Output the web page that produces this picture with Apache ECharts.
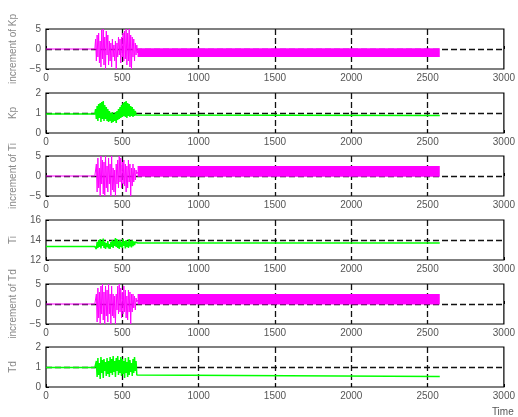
<!DOCTYPE html>
<html>
<head>
<meta charset="utf-8">
<script src="https://cdn.jsdelivr.net/npm/echarts@6/dist/echarts.min.js"></script>
<style>
  html, body { margin: 0; padding: 0; background: #fff; }
  #main { width: 518px; height: 417px; }
</style>
</head>
<body>
<div id="main"></div>
<script>
// panel settings, top to bottom
var yNames = ['increment of Kp', 'Kp', 'increment of Ti', 'Ti', 'increment of Td', 'Td'];
var yMin = [-5, 0, -5, 12, -5, 0];
var yMax = [5, 2, 5, 16, 5, 2];
var yStep = [5, 1, 5, 2, 5, 1];
var xTicks = [0, 500, 1000, 1500, 2000, 2500, 3000];

// time stamps of the adaptation burst
var oscT = [320, 325, 330, 335, 340, 345, 350, 355, 360, 365, 370, 375, 380, 385, 390,
    395, 400, 405, 410, 415, 420, 425, 430, 435, 440, 445, 450, 455, 460, 465, 470,
    475, 480, 485, 490, 495, 500, 505, 510, 515, 520, 525, 530, 535, 540, 545, 550,
    555, 560, 565, 570, 575, 580, 585, 590, 595, 600];

// increments (magenta)
var incKp = [0, 2.5, -3, 3.5, -2, 4, -3.5, 2, -4.5, 4.8, -2.5, 5, -4, 3, -5, 4.5, -1.5,
    3.5, -4, 2, -3, 1.5, -4.5, 2.5, -2, 1, -3, 2, -5, 1.5, -2, 3, -1.5, 2.5, -3.5, 3, -2,
    4, -3, 4.5, -2.5, 5, -4, 4, -3, 5, -4.5, 3.5, -5, 3, -2, 2.5, -3, 1.5, -1.5, 1, -1];
var incTi = [0, 0, 3, -4, 4.5, -3, 2, -5, 5, -2, 4, -4.5, 3.5, -5, 5, -3, 2.5, -4, 4.5,
    -2, 3, -5, 5, -3.5, 2, -4, 1.5, -5, 3, -2, 4, -3, 5, -1.5, 4.5, -3, 3.5, -2, 4, -2.5,
    3, -4, 2.5, -3, 4, -1.5, 3, -5, 2, -2.5, 3, -1.5, 2, -1, 1.5, 0.5, 1];
var incTd = [0, 0, 2.5, -4.5, 4, -3.5, 3, -5, 4.5, -2.5, 5, -4, 3, -5, 4.5, -3, 3.5, -4.5,
    5, -2.5, 2.5, -5, 4.5, -3, 2.5, -3.5, 2, -5, 2.5, -1.5, 4.5, -2.5, 5, -2, 4, -3.5, 3,
    -2.5, 4.5, -2, 3.5, -3.5, 2, -4, 3.5, -2, 3, -5, 2.5, -2, 2.5, -1, 2, -1.5, 1.5, 0.5, 1];

// parameters (green)
var kp = [0.95, 1.2, 0.7, 1.35, 0.6, 1.45, 0.75, 1.5, 0.55, 1.55, 0.7, 1.6, 0.6, 1.4, 0.7,
    1.3, 0.6, 1.2, 0.55, 1.1, 0.6, 1.0, 0.5, 1.05, 0.55, 0.95, 0.6, 1.05, 0.5, 1.1, 0.65,
    1.2, 0.7, 1.3, 0.75, 1.4, 0.8, 1.5, 0.85, 1.55, 0.8, 1.6, 0.75, 1.5, 0.85, 1.45, 0.8,
    1.35, 0.85, 1.3, 0.8, 1.2, 0.85, 1.1, 0.9, 0.95, 0.87];
var ti = [13.35, 13.35, 13.1, 13.8, 13.2, 14.0, 13.3, 14.1, 13.15, 13.9, 13.4, 14.15, 13.2,
    13.8, 13.1, 13.7, 13.3, 13.9, 13.15, 13.6, 13.1, 13.8, 13.3, 14.0, 13.2, 13.9, 13.4,
    14.2, 13.3, 14.1, 13.2, 13.9, 13.1, 14.0, 13.3, 13.8, 13.2, 14.1, 13.4, 13.9, 13.15,
    14.0, 13.3, 13.85, 13.2, 14.1, 13.35, 13.9, 13.25, 14.0, 13.4, 13.85, 13.5, 13.8, 13.6,
    13.7, 13.7];
var td = [0.97, 0.97, 1.3, 0.5, 1.45, 0.6, 1.2, 0.4, 1.5, 0.7, 1.35, 0.45, 1.4, 0.8, 1.25,
    0.55, 1.45, 0.65, 1.3, 0.5, 1.5, 0.7, 1.4, 0.6, 1.55, 0.75, 1.3, 0.5, 1.45, 0.8, 1.55,
    0.6, 1.35, 0.7, 1.5, 0.55, 1.4, 0.65, 1.3, 0.45, 1.45, 0.7, 1.25, 0.5, 1.5, 0.6, 1.35,
    0.75, 1.2, 0.55, 1.4, 0.7, 1.5, 0.8, 1.3, 0.6, 0.53];

// the fast chatter after the burst, drawn as a filled band [low, high]
var bandT = [600, 2580];
var bandKp = [-2, 0.2];
var bandTi = [-0.2, 2.5];
var bandTd = [-0.1, 2.5];

var endT = 2580;
var gridTops = [29, 93, 156, 220, 284, 347];

var chart = echarts.init(document.getElementById('main'));

function pairs(start, vals, tail) {
    var res = [[0, start]];
    for (var i = 0; i < oscT.length; i++) {
        res.push([oscT[i], vals[i]]);
    }
    if (tail) res.push([endT, vals[vals.length - 1]]);
    return res;
}

var dash = { color: '#111', type: [6, 3], width: 1.3 };
var font = 'Liberation Sans, Arial, sans-serif';

var grids = [], xAxes = [], yAxes = [], series = [];
var lineData = [
    pairs(0, incKp, false), pairs(kp[0], kp, true),
    pairs(0, incTi, false), pairs(ti[0], ti, true),
    pairs(0, incTd, false), pairs(td[0], td, true)
];
var bands = [bandKp, null, bandTi, null, bandTd, null];

for (var i = 0; i < 6; i++) {
    grids.push({
        left: 46, right: 11, top: gridTops[i], height: 40,
        show: true, borderColor: '#000', borderWidth: 1.2
    });
    xAxes.push({
        type: 'value', gridIndex: i, min: xTicks[0], max: xTicks[xTicks.length - 1],
        interval: xTicks[1] - xTicks[0],
        axisLine: { show: false },
        axisTick: { inside: true, length: 3, lineStyle: { color: '#000' } },
        axisLabel: { color: '#555', fontSize: 10, fontFamily: font, margin: 4,
            formatter: function(v) { return String(v); } },
        splitLine: { show: true, showMinLine: false, showMaxLine: false, lineStyle: dash },
        name: i === 5 ? 'Time' : '',
        nameLocation: 'end', nameGap: -12,
        nameTextStyle: { color: '#555', fontSize: 10, fontFamily: font,
            verticalAlign: 'top', padding: [20, 0, 0, 0] }
    });
    yAxes.push({
        type: 'value', gridIndex: i, min: yMin[i], max: yMax[i], interval: yStep[i],
        axisLine: { show: false },
        axisTick: { inside: true, length: 3, lineStyle: { color: '#000' } },
        axisLabel: { color: '#555', fontSize: 10, fontFamily: font, margin: 5,
            formatter: function(v) { return String(v).replace('-', '\u2212'); } },
        splitLine: { show: true, showMinLine: false, showMaxLine: false, lineStyle: dash },
        name: yNames[i], nameLocation: 'middle', nameGap: 28, nameRotate: 90,
        nameTextStyle: { color: '#888', fontSize: 10, fontFamily: font }
    });
    var s = {
        type: 'line', xAxisIndex: i, yAxisIndex: i,
        data: lineData[i], showSymbol: false, silent: true,
        lineStyle: { color: i % 2 === 0 ? '#ff00ff' : '#00ff00', width: i % 2 === 0 ? 1 : 1.5 },
        itemStyle: { color: i % 2 === 0 ? '#ff00ff' : '#00ff00' }
    };
    if (bands[i]) {
        s.markArea = {
            silent: true,
            itemStyle: { color: '#ff00ff', opacity: 1 },
            data: [[{ coord: [bandT[0], bands[i][0]] }, { coord: [bandT[1], bands[i][1]] }]]
        };
    }
    series.push(s);
}

chart.setOption({
    animation: false,
    backgroundColor: '#fff',
    grid: grids,
    xAxis: xAxes,
    yAxis: yAxes,
    series: series
});
</script>
</body>
</html>
